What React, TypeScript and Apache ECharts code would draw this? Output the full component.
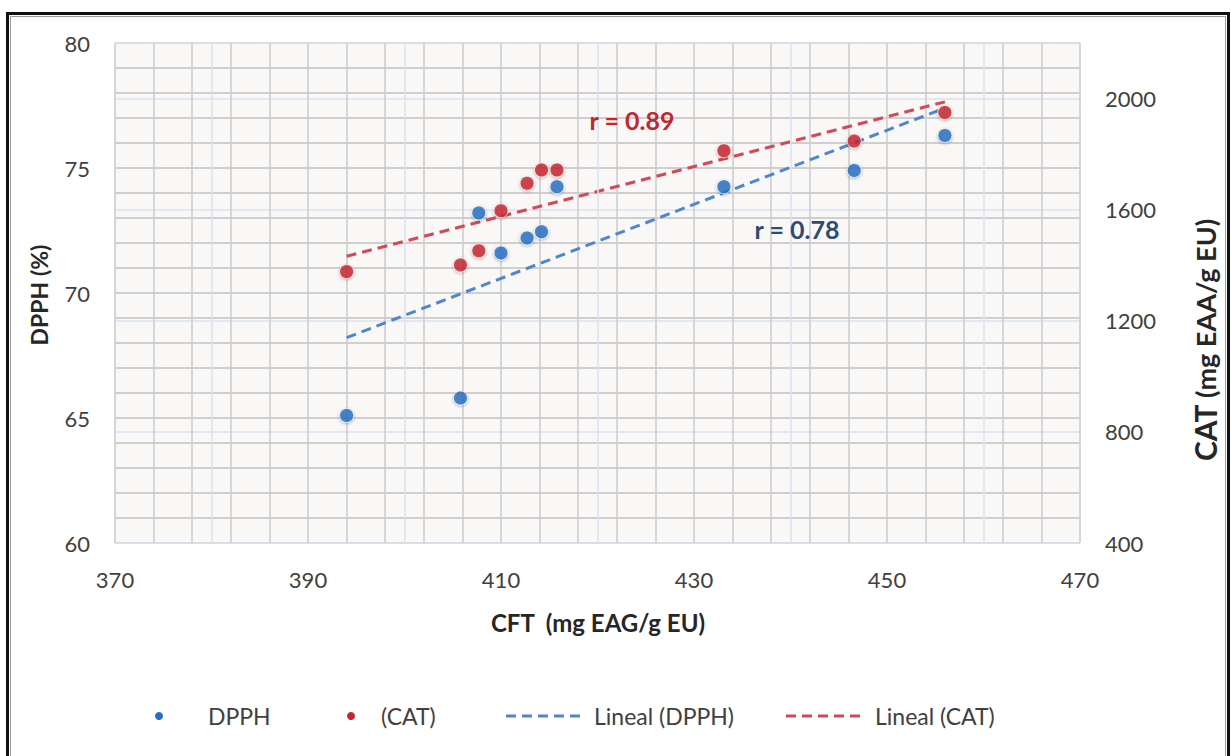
import React, { useEffect, useRef } from "react";
import * as echarts from "echarts";

// ---- Data ----
const cft = [394.0, 405.8, 407.7, 410.0, 412.7, 414.2, 415.8, 433.1, 446.6, 456.0];
const dpph = [65.1, 65.8, 73.2, 71.6, 72.2, 72.45, 74.25, 74.25, 74.9, 76.3];
const cat = [1377, 1401, 1452, 1596, 1695, 1743, 1743, 1812, 1847, 1950];

const xTicks = { min: 370, max: 470, interval: 20 };
const leftTicks = { min: 60, max: 80, interval: 5 };
const rightTicks = { min: 400, max: 2200, interval: 400 };
const secondaryGridX = [380, 400, 420, 440, 460];

const rDpph = "r = 0.78";
const rCat = "r = 0.89";

const legendNames = ["DPPH", "(CAT)", "Lineal (DPPH)", "Lineal (CAT)"];

function regressionLine(xs: number[], ys: number[]) {
  const n = xs.length;
  const mx = xs.reduce((a, b) => a + b, 0) / n;
  const my = ys.reduce((a, b) => a + b, 0) / n;
  let sxy = 0;
  let sxx = 0;
  for (let i = 0; i < n; i++) {
    sxy += (xs[i] - mx) * (ys[i] - my);
    sxx += (xs[i] - mx) * (xs[i] - mx);
  }
  const slope = sxy / sxx;
  const x0 = Math.min(...xs);
  const x1 = Math.max(...xs);
  return [
    [x0, my + slope * (x0 - mx)],
    [x1, my + slope * (x1 - mx)],
  ];
}

const BLUE = "#2470c4";
const RED = "#c8262e";
const BLUE_TREND = "#4f86d0";
const RED_TREND = "#d24a55";
const FONT = "Lato";
const LABEL_COLOR = "#404040";
const TITLE_COLOR = "#262626";

export default function App() {
  const ref = useRef<HTMLDivElement>(null);

  useEffect(() => {
    const chart = echarts.init(ref.current!, null, {
      renderer: "svg",
      width: 1231,
      height: 756,
    });

    const pointStyle = (color: string) => ({
      color,
      borderColor: "rgba(255,255,255,0.85)",
      borderWidth: 1,
      shadowBlur: 3,
      shadowColor: "rgba(0,0,0,0.35)",
      shadowOffsetY: 1,
    });

    const legendY = 716;
    const legendFont = `23px ${FONT}`;

    const option: any = {
      animation: false,
      backgroundColor: "#ffffff",
      textStyle: { fontFamily: FONT },
      grid: {
        left: 115,
        right: 151,
        top: 43,
        bottom: 213,
        show: true,
        backgroundColor: "#f9f8f6",
        borderWidth: 0,
      },
      xAxis: {
        type: "value",
        min: xTicks.min,
        max: xTicks.max,
        interval: xTicks.interval,
        axisLine: { show: false },
        axisTick: { show: false },
        axisLabel: {
          margin: 25,
          fontSize: 22,
          color: LABEL_COLOR,
          fontFamily: FONT,
        },
        splitLine: { show: true, lineStyle: { color: "#cbcbcb", width: 1.5 } },
        minorTick: { show: false, splitNumber: 5 },
        minorSplitLine: { show: true, lineStyle: { color: "#cbcbcb", width: 1.5 } },
      },
      yAxis: [
        {
          type: "value",
          position: "left",
          min: leftTicks.min,
          max: leftTicks.max,
          interval: leftTicks.interval,
          axisLine: { show: false },
          axisTick: { show: false },
          axisLabel: {
            margin: 25,
            fontSize: 22,
            color: LABEL_COLOR,
            fontFamily: FONT,
          },
          splitLine: { show: true, lineStyle: { color: "#c2c2c2", width: 1.5 } },
          minorTick: { show: false, splitNumber: 5 },
          minorSplitLine: { show: true, lineStyle: { color: "#c2c2c2", width: 1.5 } },
        },
        {
          type: "value",
          position: "right",
          min: rightTicks.min,
          max: rightTicks.max,
          interval: rightTicks.interval,
          axisLine: { show: false },
          axisTick: { show: false },
          axisLabel: {
            margin: 25,
            fontSize: 22,
            color: LABEL_COLOR,
            fontFamily: FONT,
            showMaxLabel: false,
            formatter: (v: number) => String(v),
          },
          splitLine: { show: true, lineStyle: { color: "#d9e3f0", width: 1.5 } },
        },
      ],
      series: [
        {
          name: "gridX2",
          type: "line",
          data: [],
          silent: true,
          markLine: {
            silent: true,
            symbol: "none",
            label: { show: false },
            lineStyle: { color: "#d9e3f0", width: 1.5, type: "solid" },
            data: secondaryGridX.map((v) => ({ xAxis: v })),
          },
          z: 1,
        },
        {
          name: legendNames[2],
          type: "line",
          yAxisIndex: 0,
          data: regressionLine(cft, dpph),
          showSymbol: false,
          symbol: "none",
          lineStyle: { color: BLUE_TREND, width: 3, type: [10, 6] },
          z: 3,
        },
        {
          name: legendNames[3],
          type: "line",
          yAxisIndex: 1,
          data: regressionLine(cft, cat),
          showSymbol: false,
          symbol: "none",
          lineStyle: { color: RED_TREND, width: 3, type: [10, 6] },
          z: 3,
        },
        {
          name: legendNames[0],
          type: "scatter",
          yAxisIndex: 0,
          symbolSize: 14,
          data: cft.map((x, i) => [x, dpph[i]]),
          itemStyle: pointStyle(BLUE),
          z: 5,
        },
        {
          name: legendNames[1],
          type: "scatter",
          yAxisIndex: 1,
          symbolSize: 14,
          data: cft.map((x, i) => [x, cat[i]]),
          itemStyle: pointStyle(RED),
          z: 6,
        },
      ],
      graphic: [
        // outer frame
        {
          type: "rect",
          shape: { x: 7.5, y: 13.5, width: 1221, height: 760 },
          style: { fill: "none", stroke: "#111", lineWidth: 3 },
          silent: true,
        },
        {
          type: "rect",
          shape: { x: 10.5, y: 16.5, width: 1215, height: 760 },
          style: { fill: "none", stroke: "#9a9a9a", lineWidth: 1 },
          silent: true,
        },
        // correlation labels
        {
          type: "text",
          x: 632,
          y: 120,
          style: {
            text: rCat,
            fill: "#c1272f",
            font: `bold 25px ${FONT}`,
            align: "center",
            verticalAlign: "middle",
          },
          z: 10,
        },
        {
          type: "text",
          x: 797,
          y: 229,
          style: {
            text: rDpph,
            fill: "#2d4b74",
            font: `bold 25px ${FONT}`,
            align: "center",
            verticalAlign: "middle",
          },
          z: 10,
        },
        // axis titles
        {
          type: "text",
          x: 39,
          y: 295,
          rotation: Math.PI / 2,
          style: {
            text: "DPPH (%)",
            fill: TITLE_COLOR,
            font: `bold 23px ${FONT}`,
            align: "center",
            verticalAlign: "middle",
          },
        },
        {
          type: "text",
          x: 598,
          y: 622,
          style: {
            text: "CFT  (mg EAG/g EU)",
            fill: TITLE_COLOR,
            font: `bold 24px ${FONT}`,
            align: "center",
            verticalAlign: "middle",
          },
        },
        {
          type: "text",
          x: 1205,
          y: 340,
          rotation: Math.PI / 2,
          style: {
            text: "{a|CAT}  {b|(mg EAA/g EU)}",
            align: "center",
            verticalAlign: "middle",
            rich: {
              a: { fontFamily: FONT, fontWeight: "bold", fontSize: 30, fill: TITLE_COLOR, color: TITLE_COLOR },
              b: { fontFamily: FONT, fontWeight: "bold", fontSize: 27, fill: TITLE_COLOR, color: TITLE_COLOR },
            },
          },
        },
        // legend
        {
          type: "circle",
          shape: { cx: 159, cy: legendY, r: 4 },
          style: { fill: BLUE },
        },
        {
          type: "text",
          x: 208,
          y: legendY,
          style: { text: legendNames[0], fill: LABEL_COLOR, font: legendFont, verticalAlign: "middle" },
        },
        {
          type: "circle",
          shape: { cx: 351, cy: legendY, r: 4 },
          style: { fill: RED },
        },
        {
          type: "text",
          x: 381,
          y: legendY,
          style: { text: legendNames[1], fill: LABEL_COLOR, font: legendFont, verticalAlign: "middle" },
        },
        {
          type: "line",
          shape: { x1: 506, y1: legendY, x2: 586, y2: legendY },
          style: { stroke: BLUE_TREND, lineWidth: 3, lineDash: [10, 6] },
        },
        {
          type: "text",
          x: 594,
          y: legendY,
          style: { text: legendNames[2], fill: LABEL_COLOR, font: legendFont, verticalAlign: "middle" },
        },
        {
          type: "line",
          shape: { x1: 786, y1: legendY, x2: 866, y2: legendY },
          style: { stroke: RED_TREND, lineWidth: 3, lineDash: [10, 6] },
        },
        {
          type: "text",
          x: 875,
          y: legendY,
          style: { text: legendNames[3], fill: LABEL_COLOR, font: legendFont, verticalAlign: "middle" },
        },
      ],
    };

    chart.setOption(option);
    return () => chart.dispose();
  }, []);

  return (
    <div
      ref={ref}
      style={{ position: "absolute", left: 0, top: 0, width: 1231, height: 756, background: "#fff" }}
    />
  );
}
